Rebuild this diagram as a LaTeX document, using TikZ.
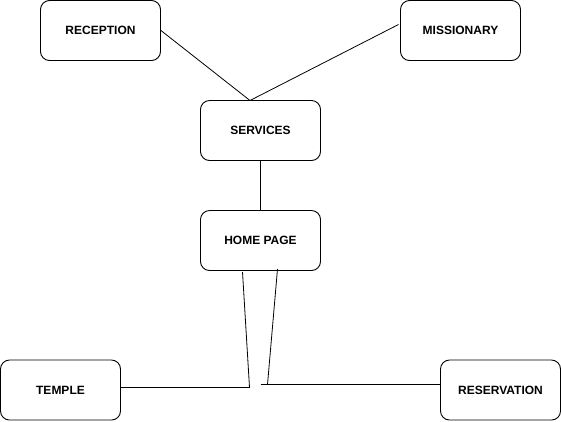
\documentclass[tikz,border=0pt]{standalone}
\usepackage{fontspec}
\setmainfont{Liberation Sans}
\begin{document}
\begin{tikzpicture}[x=1bp,y=-1bp,
  box/.style={draw, line width=0.9bp, rounded corners=9bp, minimum width=120bp, minimum height=60bp, inner sep=0pt, font=\fontsize{12bp}{14bp}\selectfont\bfseries},
  conn/.style={draw, line width=0.8bp}]
\useasboundingbox (0,0) rectangle (561,421);
\node[box] (rec) at (100.5,30.5) {RECEPTION};
\node[box] (mis) at (460.5,30.5) {MISSIONARY};
\node[box] (svc) at (260.5,130.5) {SERVICES};
\node[box] (hp) at (260.5,240.5) {HOME PAGE};
\node[box] (tem) at (60.5,390) {TEMPLE};
\node[box] (res) at (500.5,390) {RESERVATION};
\coordinate (svctop) at (250,100.5);
\coordinate (misend) at (398.5,24.5);
\coordinate (hpl) at (242.5,272);
\coordinate (hpr) at (277.5,269);
\coordinate (jl) at (249.5,387.5);
\coordinate (jr) at (267.5,384.5);
\coordinate (jrs) at (260.5,384.5);
\path[conn] (rec.east) -- (svctop);
\path[conn] (misend) -- (svctop);
\path[conn] (svc.south) -- (hp.north);
\path[conn] (hpl) -- (jl);
\path[conn] (hpr) -- (jr);
\path[conn] (tem.east |- jl) -- (jl);
\path[conn] (jrs) -- (res.west |- jrs);
\end{tikzpicture}
\end{document}
